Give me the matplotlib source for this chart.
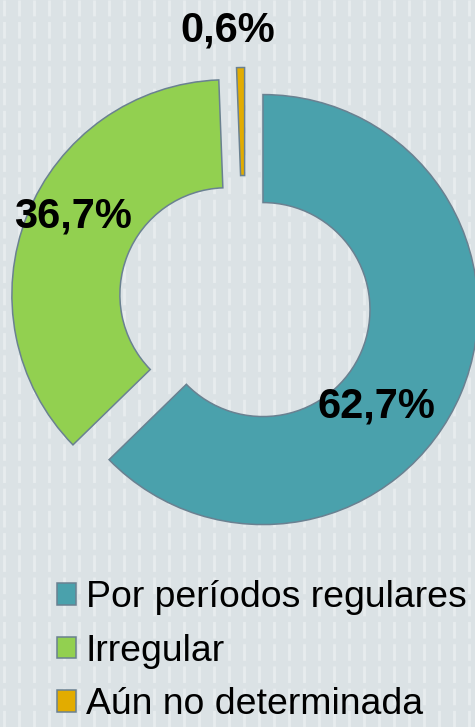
"""Donut chart: frecuencia de la medición (porcentajes)."""

import matplotlib
matplotlib.use('Agg')
import matplotlib.pyplot as plt
import numpy as np


CATEGORIES = ['Por períodos regulares', 'Irregular', 'Aún no determinada']
SHARES = [62.7, 36.7, 0.6]
VALUE_LABELS = ['62,7%', '36,7%', '0,6%']
COLORS = ['#4aa1ac', '#92d050', '#e2ac00']

BG = '#dbe2e5'
EDGE = '#6a8191'

plt.rcParams['font.family'] = ['Liberation Sans', 'DejaVu Sans']

W, H = 475, 727
fig = plt.figure(figsize=(W / 100, H / 100), dpi=100, facecolor=BG)
ax = fig.add_axes([0, 0, 1, 1])
ax.set_xlim(0, W)
ax.set_ylim(0, H)
ax.set_aspect('equal')
ax.axis('off')

# faint vertical stripes of the slide background
for x in np.arange(4, W, 15):
    ax.axvline(x, color='white', alpha=0.35, lw=2.0, ls=(0, (6, 2)), zorder=0)

# explode is in data units here (pixels)
wedges, _ = ax.pie(
    SHARES, colors=COLORS, startangle=90, counterclock=False,
    center=(245, H - 302), radius=215,
    explode=[19.5, 19.5, 19.5],
    wedgeprops=dict(width=108, edgecolor=EDGE, linewidth=1.1),
)
ax.set_xlim(0, W)
ax.set_ylim(0, H)

# value labels (baseline positions in pixels)
label_pos = [(376, H - 417), (73, H - 228), (228, H - 42)]
for (x, y), txt in zip(label_pos, VALUE_LABELS):
    ax.text(x, y, txt, ha='center', va='baseline', fontsize=30,
            fontweight='bold', color='black', zorder=5)

leg = ax.legend(wedges, CATEGORIES, loc='upper left',
                bbox_to_anchor=(57 / W, (H - 580) / H), frameon=False,
                fontsize=26.9, borderpad=0, borderaxespad=0,
                handlelength=0.52, handleheight=0.52, handletextpad=0.25,
                labelspacing=0.50)
for h in leg.legend_handles:
    h.set_edgecolor(EDGE)
    h.set_linewidth(1.1)

fig.savefig('out.png', dpi=100, facecolor=BG)
